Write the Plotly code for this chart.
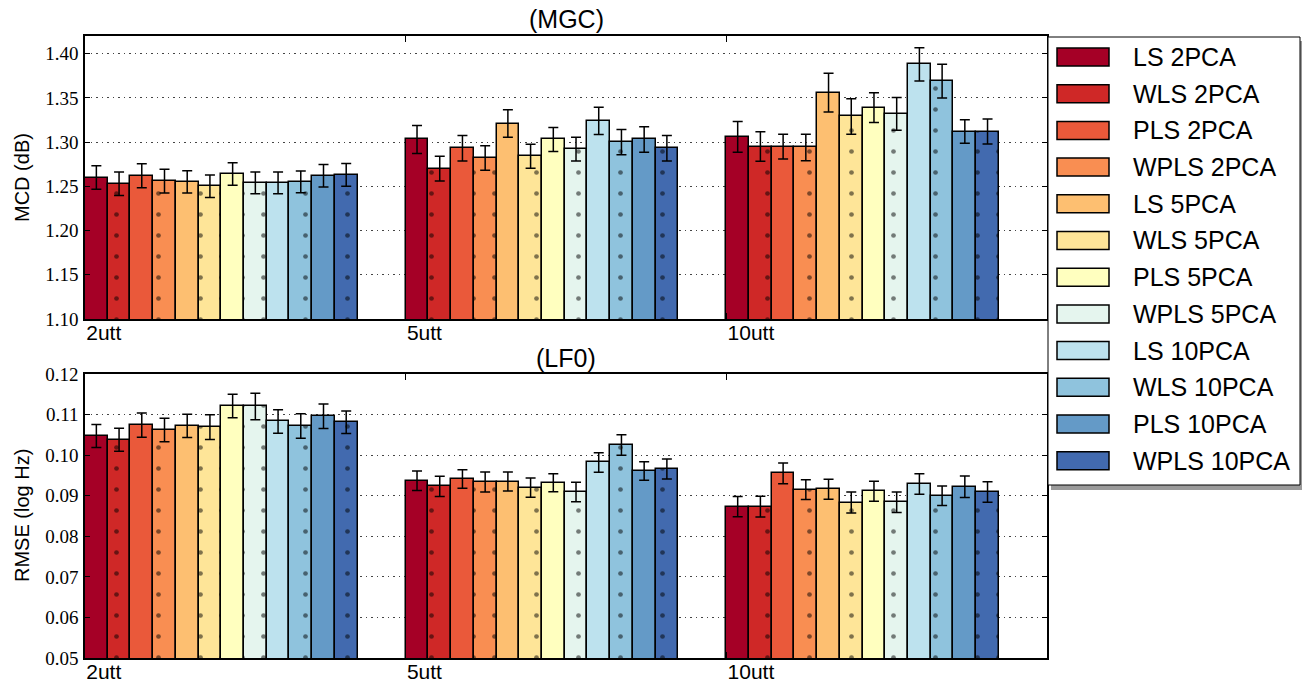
import plotly.graph_objects as go

W, H = 1302, 683

series = ["LS 2PCA", "WLS 2PCA", "PLS 2PCA", "WPLS 2PCA",
          "LS 5PCA", "WLS 5PCA", "PLS 5PCA", "WPLS 5PCA",
          "LS 10PCA", "WLS 10PCA", "PLS 10PCA", "WPLS 10PCA"]
groups = ["2utt", "5utt", "10utt"]
colors = ["#a50026", "#cf2827", "#ea593a", "#f98e52", "#fdbf71", "#fee598",
          "#ffffbf", "#e5f5ee", "#bde2ee", "#8fc3dd", "#649ac7", "#426aaf"]
hatched = [s.startswith("W") for s in series]

# MCD (dB), one list per group, in series order
mcd_2utt = [1.260, 1.253, 1.262, 1.256, 1.255, 1.250, 1.264, 1.254, 1.254, 1.255, 1.262, 1.263]
mcd_5utt = [1.303, 1.270, 1.293, 1.282, 1.321, 1.284, 1.303, 1.292, 1.324, 1.300, 1.303, 1.293]
mcd_10utt = [1.306, 1.295, 1.295, 1.294, 1.356, 1.329, 1.339, 1.332, 1.388, 1.369, 1.312, 1.312]
mcd_err_2utt = [0.0133, 0.0133, 0.0136, 0.0134, 0.0125, 0.0127, 0.0128, 0.0123, 0.0123, 0.0123, 0.0128, 0.0128]
mcd_err_5utt = [0.0159, 0.0139, 0.0144, 0.0139, 0.0156, 0.0136, 0.0136, 0.0134, 0.0153, 0.0142, 0.0144, 0.0144]
mcd_err_10utt = [0.0174, 0.0167, 0.0140, 0.0150, 0.0218, 0.0201, 0.0168, 0.0185, 0.0188, 0.0190, 0.0134, 0.0142]

# LF0 RMSE (log Hz)
rmse_2utt = [0.1047, 0.1038, 0.1074, 0.1062, 0.1072, 0.1069, 0.1121, 0.1120, 0.1083, 0.1072, 0.1096, 0.1081]
rmse_5utt = [0.0937, 0.0923, 0.0941, 0.0934, 0.0935, 0.0920, 0.0932, 0.0909, 0.0982, 0.1025, 0.0961, 0.0966]
rmse_10utt = [0.0873, 0.0873, 0.0955, 0.0915, 0.0916, 0.0883, 0.0911, 0.0884, 0.0929, 0.0900, 0.0922, 0.0909]
rmse_err_2utt = [0.00283, 0.00283, 0.00296, 0.00291, 0.00288, 0.00303, 0.00288, 0.00325, 0.00288, 0.00303, 0.00301, 0.00279]
rmse_err_5utt = [0.00242, 0.00251, 0.00227, 0.00246, 0.00234, 0.00239, 0.00222, 0.00239, 0.00239, 0.00251, 0.00229, 0.00246]
rmse_err_10utt = [0.00251, 0.00254, 0.00254, 0.00246, 0.00246, 0.00259, 0.00246, 0.00254, 0.00251, 0.00242, 0.00264, 0.00254]


def px(xp):
    return xp / W


def py(yp):
    return 1 - yp / H


bw = 0.85 / len(series)
fig = go.Figure()

panels = [
    ([mcd_2utt, mcd_5utt, mcd_10utt], [mcd_err_2utt, mcd_err_5utt, mcd_err_10utt], "x", "y"),
    ([rmse_2utt, rmse_5utt, rmse_10utt], [rmse_err_2utt, rmse_err_5utt, rmse_err_10utt], "x2", "y2"),
]

for vals, errs, xa, ya in panels:
    for j, name in enumerate(series):
        xs = [g + (j + 0.5) * bw for g in range(len(groups))]
        ys = [vals[g][j] for g in range(len(groups))]
        es = [errs[g][j] for g in range(len(groups))]
        pattern = dict(shape=".", size=21, solidity=0.04, fgcolor="#000",
                       bgcolor=colors[j], fillmode="overlay") if hatched[j] else dict(shape="")
        fig.add_trace(go.Bar(
            x=xs, y=ys, width=bw, name=name, xaxis=xa, yaxis=ya,
            marker=dict(color=colors[j], line=dict(color="black", width=1.5), pattern=pattern),
            error_y=dict(type="data", array=es, color="black", thickness=1.5, width=5),
            showlegend=False,
        ))

xdom = [px(85), px(1047)]
axis_x = dict(range=[0, 3], tickvals=list(range(len(groups))), ticktext=groups,
              ticklabelposition="outside right", ticks="inside", ticklen=6, tickcolor="black",
              showline=True, linecolor="black", linewidth=1.5, mirror="ticks",
              showgrid=False, zeroline=False, automargin=False, ticklabelstandoff=-6,
              tickfont=dict(family="Liberation Sans", size=21, color="black"), domain=xdom)
axis_y = dict(ticks="inside", ticklen=5, tickcolor="black", tickwidth=1,
              showline=True, linecolor="black", linewidth=1.5, mirror="ticks",
              showgrid=True, gridcolor="#444", gridwidth=1, griddash="1.5px,4px",
              zeroline=False, automargin=False, tickformat=".2f", ticklabelstandoff=1,
              tickfont=dict(family="Liberation Serif", size=19, color="black"))

fig.update_layout(
    width=W, height=H, margin=dict(l=0, r=0, t=0, b=0),
    plot_bgcolor="white", paper_bgcolor="white", template="none",
    barmode="overlay", bargap=0,
    xaxis=dict(axis_x, anchor="y"),
    yaxis=dict(axis_y, range=[1.10, 1.42], tick0=1.10, dtick=0.05,
               domain=[py(319), py(36)], anchor="x"),
    xaxis2=dict(axis_x, anchor="y2"),
    yaxis2=dict(axis_y, range=[0.05, 0.12], tick0=0.05, dtick=0.01,
                domain=[py(658), py(374)], anchor="x2"),
)

annotations = []
shapes = []
sans = "Liberation Sans"
xc = (85 + 1047) / 2


def label(text, x, y, size, angle=0, xanchor="center"):
    return dict(text=text, x=px(x), y=py(y), xref="paper", yref="paper",
                xanchor=xanchor, yanchor="middle", showarrow=False, textangle=angle,
                font=dict(family=sans, size=size, color="black"))


annotations.append(label("(MGC)", xc, 19, 25))
annotations.append(label("(LF0)", xc, 358, 25))
annotations.append(label("MCD (dB)", 22, 178, 20, -90))
annotations.append(label("RMSE (log Hz)", 22, 516, 20, -90))

# legend box
shapes.append(dict(type="rect", xref="paper", yref="paper", x0=px(1051), x1=px(1304),
                   y0=py(490), y1=py(41), fillcolor="#9a9a9a", line=dict(width=0), layer="above"))
shapes.append(dict(type="rect", xref="paper", yref="paper", x0=px(1048), x1=px(1300),
                   y0=py(485), y1=py(37), fillcolor="white", line=dict(color="black", width=1), layer="above"))
for i, name in enumerate(series):
    cy = 57 + 36.7 * i
    shapes.append(dict(type="rect", xref="paper", yref="paper", x0=px(1057), x1=px(1109),
                       y0=py(cy + 9), y1=py(cy - 9), fillcolor=colors[i],
                       line=dict(color="black", width=1.5), layer="above"))
    annotations.append(label(name, 1131, cy, 25, xanchor="left"))

fig.update_layout(annotations=annotations, shapes=shapes)
fig.write_html(
    "out.html",
    config={"displayModeBar": False},
    post_script="document.body.style.margin='0';document.body.style.padding='0';"
                "document.body.style.overflow='hidden';",
)
